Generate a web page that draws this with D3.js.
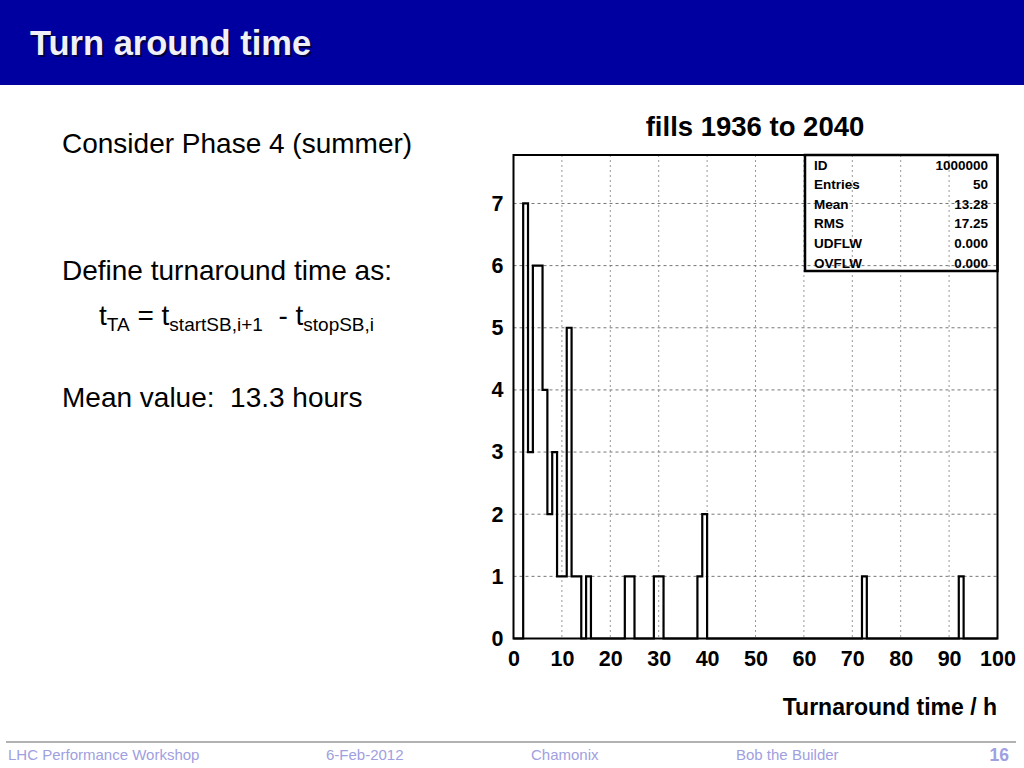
<!DOCTYPE html>
<html>
<head>
<meta charset="utf-8">
<script src="https://cdn.jsdelivr.net/npm/d3@7"></script>
<style>
  body { margin: 0; background: #fff; }
  svg { display: block; font-family: "Liberation Sans", Arial, Helvetica, sans-serif; }
  text { white-space: pre; }
</style>
</head>
<body>
<script>
// Histogram data: 1-hour bins, only the non-empty ones are listed
var binHours  = [2, 3, 4, 5, 6, 7, 8, 9, 10, 11, 12, 13, 15, 23, 24, 29, 30, 38, 39, 72, 92];
var binCounts = [7, 3, 6, 6, 4, 2, 3, 1, 1, 5, 1, 1, 1, 1, 1, 1, 1, 1, 2, 1, 1];

var xTicks = [0, 10, 20, 30, 40, 50, 60, 70, 80, 90, 100];
var yTicks = [0, 1, 2, 3, 4, 5, 6, 7];

var statLabels = ["ID", "Entries", "Mean", "RMS", "UDFLW", "OVFLW"];
var statValues = ["1000000", "50", "13.28", "17.25", "0.000", "0.000"];

var footerTexts = ["LHC Performance Workshop", "6-Feb-2012", "Chamonix", "Bob the Builder"];
var pageNumber = "16";

var svgWidth = 1024;
var svgHeight = 768;

var svg = d3.select("body")
  .append("svg")
  .attr("width", svgWidth)
  .attr("height", svgHeight);

// ---- slide header ----
svg.append("rect")
  .attr("x", 0).attr("y", 0)
  .attr("width", svgWidth).attr("height", 85)
  .attr("fill", "#0000a0");

svg.append("text")
  .attr("x", 32).attr("y", 57)
  .attr("font-size", 34.5).attr("font-weight", "bold")
  .attr("fill", "#000040")
  .text("Turn around time");
svg.append("text")
  .attr("x", 30).attr("y", 55)
  .attr("font-size", 34.5).attr("font-weight", "bold")
  .attr("fill", "#f0f0f8")
  .text("Turn around time");

// ---- left text ----
var leftText = svg.append("g").attr("fill", "#000").attr("font-size", 28);
leftText.append("text").attr("x", 62).attr("y", 153).text("Consider Phase 4 (summer)");
leftText.append("text").attr("x", 62).attr("y", 280).text("Define turnaround time as:");

var formula = leftText.append("text").attr("x", 99).attr("y", 325);
formula.append("tspan").text("t");
formula.append("tspan").attr("font-size", 19).attr("dy", 6).text("TA");
formula.append("tspan").attr("dy", -6).text(" = t");
formula.append("tspan").attr("font-size", 19).attr("dy", 6).text("startSB,i+1");
formula.append("tspan").attr("dy", -6).text("  - t");
formula.append("tspan").attr("font-size", 19).attr("dy", 6).text("stopSB,i");

leftText.append("text").attr("x", 62).attr("y", 407).text("Mean value:  13.3 hours");

// ---- histogram ----
var frame = { left: 513.5, right: 997.5, top: 155, bottom: 638.5 };

var xScale = d3.scaleLinear()
  .domain([0, 100])
  .range([frame.left, frame.right]);

var yScale = d3.scaleLinear()
  .domain([0, 7.78])
  .range([frame.bottom, frame.top]);

var chartGroup = svg.append("g");

// grid
chartGroup.append("g")
  .selectAll("line")
  .data(xTicks.slice(1, -1))
  .enter()
  .append("line")
  .attr("x1", d => xScale(d)).attr("x2", d => xScale(d))
  .attr("y1", frame.top).attr("y2", frame.bottom)
  .attr("stroke", "#999").attr("stroke-width", 1)
  .attr("stroke-dasharray", "2,3");

chartGroup.append("g")
  .selectAll("line")
  .data(yTicks.slice(1))
  .enter()
  .append("line")
  .attr("x1", frame.left).attr("x2", frame.right)
  .attr("y1", d => yScale(d)).attr("y2", d => yScale(d))
  .attr("stroke", "#777").attr("stroke-width", 1)
  .attr("stroke-dasharray", "3,3");

// full set of bins 0..100 (empty ones are zero)
var counts = d3.range(0, 100).map(function(h) {
  var i = binHours.indexOf(h);
  return { h: h, c: i >= 0 ? binCounts[i] : 0 };
});
counts.push({ h: 100, c: 0 });

var drawStep = d3.line()
  .x(d => xScale(d.h))
  .y(d => yScale(d.c))
  .curve(d3.curveStepAfter);

chartGroup.append("path")
  .datum(counts)
  .attr("d", drawStep)
  .attr("fill", "none")
  .attr("stroke", "#000")
  .attr("stroke-width", 2.2);

// frame
chartGroup.append("rect")
  .attr("x", frame.left).attr("y", frame.top)
  .attr("width", frame.right - frame.left)
  .attr("height", frame.bottom - frame.top)
  .attr("fill", "none")
  .attr("stroke", "#000")
  .attr("stroke-width", 2);

// axes labels (no tick lines, only labels)
var bottomAxis = d3.axisBottom(xScale).tickValues(xTicks).tickSize(0).tickPadding(12);
var leftAxis = d3.axisLeft(yScale).tickValues(yTicks).tickSize(0).tickPadding(10);

var xAxis = chartGroup.append("g")
  .attr("transform", `translate(0, ${frame.bottom})`)
  .call(bottomAxis);
var yAxis = chartGroup.append("g")
  .attr("transform", `translate(${frame.left}, 0)`)
  .call(leftAxis);

[xAxis, yAxis].forEach(function(ax) {
  ax.select(".domain").remove();
  ax.selectAll("text")
    .attr("font-family", "'Liberation Sans', Arial, sans-serif")
    .attr("font-size", 21.5)
    .attr("font-weight", "bold")
    .attr("fill", "#000");
});

svg.append("text")
  .attr("x", 755).attr("y", 136)
  .attr("text-anchor", "middle")
  .attr("font-size", 27.5).attr("font-weight", "bold")
  .text("fills 1936 to 2040");

svg.append("text")
  .attr("x", 997).attr("y", 715)
  .attr("text-anchor", "end")
  .attr("font-size", 23).attr("font-weight", "bold")
  .text("Turnaround time / h");

// stats box
var box = { left: 805, right: 997.5, top: 155, bottom: 271 };
svg.append("rect")
  .attr("x", box.left).attr("y", box.top)
  .attr("width", box.right - box.left).attr("height", box.bottom - box.top)
  .attr("fill", "none").attr("stroke", "#000").attr("stroke-width", 2.5);

var rowY = d3.scaleLinear().domain([0, 5]).range([169.5, 267.5]);
var stats = svg.append("g").attr("font-size", 13.5).attr("font-weight", "bold");
stats.selectAll(".slabel")
  .data(statLabels)
  .enter()
  .append("text")
  .attr("x", 814)
  .attr("y", (d, i) => rowY(i))
  .text(d => d);
stats.selectAll(".svalue")
  .data(statValues)
  .enter()
  .append("text")
  .attr("x", 988)
  .attr("y", (d, i) => rowY(i))
  .attr("text-anchor", "end")
  .text(d => d);

// ---- footer ----
svg.append("line")
  .attr("x1", 6).attr("x2", 1016)
  .attr("y1", 742).attr("y2", 742)
  .attr("stroke", "#999").attr("stroke-width", 1.5);

var footerX = [8, 326, 531, 736];
svg.append("g")
  .selectAll("text")
  .data(footerTexts)
  .enter()
  .append("text")
  .attr("x", (d, i) => footerX[i])
  .attr("y", 760)
  .attr("font-size", 15)
  .attr("fill", "#a0a0e0")
  .text(d => d);

svg.append("text")
  .attr("x", 1009).attr("y", 761)
  .attr("text-anchor", "end")
  .attr("font-size", 17.5).attr("font-weight", "bold")
  .attr("fill", "#a0a0e0")
  .text(pageNumber);
</script>
</body>
</html>
